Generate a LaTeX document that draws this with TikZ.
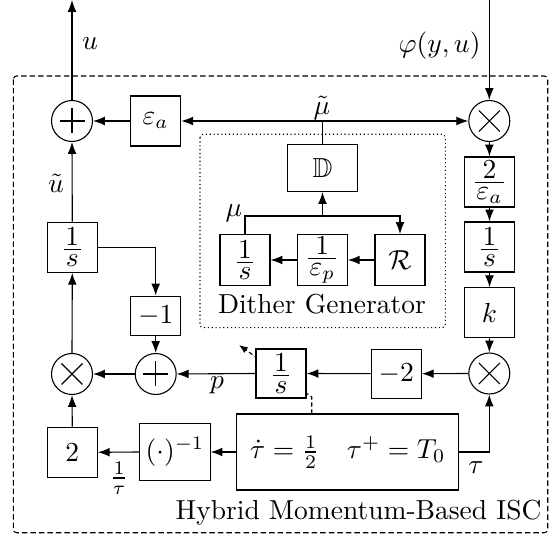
\documentclass[tikz,border=0pt]{standalone}
\usepackage{amsmath,amssymb}
\usetikzlibrary{arrows.meta,backgrounds}
\newcommand\plussym[1]{\draw (#1.center) +(-12.5,0) -- +(12.5,0) (#1.center) +(0,-12.5) -- +(0,12.5);}
\newcommand\timessym[1]{\draw (#1.center) +(-10.5,-10.5) -- +(10.5,10.5) (#1.center) +(-10.5,10.5) -- +(10.5,-10.5);}
\newcommand\bxfrac[2]{\vcenter{\offinterlineskip\halign{\hfil##\hfil\cr\kern0.5pt$#1$\kern0.5pt\cr\noalign{\kern1.3pt}\hrulefill\cr\noalign{\kern1.8pt}\kern0.5pt$#2$\kern0.5pt\cr}}}
\begin{document}
\begin{tikzpicture}[x=0.3636pt,y=-0.3636pt,line width=0.5pt,
  >={Latex[length=4.3pt,width=3.2pt]},
  blk/.style={draw,fill=white,inner sep=0pt,minimum width=18.2pt,minimum height=18.2pt},
  crc/.style={draw,fill=white,circle,inner sep=0pt,minimum size=14.9pt},
  lbl/.style={inner sep=0pt},
  outerbox/.style={dash pattern=on 2pt off 1.1pt,rounded corners=1.2pt},
  innerbox/.style={densely dotted,rounded corners=1.2pt},
  resetline/.style={dash pattern=on 1.5pt off 1pt,-{Latex[length=3.2pt,width=2.5pt]}}]
\useasboundingbox (0,0) rectangle (557,536);
\begin{pgfonlayer}{background}
\fill[white] (0,0) rectangle (557,536);
\end{pgfonlayer}
\draw[outerbox] (13.3,76) rectangle (547.7,532.7);
\draw[innerbox] (200,134.3) rectangle (445.3,327.7);
% nodes
\node[crc] (sumA) at (72,121) {};
\node[blk] (epsA) at (155.7,121) {$\varepsilon_a$};
\node[crc] (mulA) at (489.3,121) {};
\node[blk,minimum width=25.5pt,minimum height=17.1pt] (D) at (322.5,168) {$\mathbb{D}$};
\node[blk,minimum height=18.5pt] (intM) at (245,260) {$\bxfrac{1}{s}$};
\node[blk,minimum height=18.5pt] (invEp) at (322.3,260) {$\bxfrac{1}{\varepsilon_p}$};
\node[blk,minimum height=18.5pt] (R) at (400,260) {$\mathcal{R}$};
\node[blk] (intU) at (72.3,247.3) {$\bxfrac{1}{s}$};
\node[blk,minimum height=14.5pt] (m1) at (155.7,316) {$-1$};
\node[crc] (sumB) at (155.7,374) {};
\node[crc] (mulB) at (72,374) {};
\node[blk,minimum height=17.8pt] (intP) at (281,373.5) {$\bxfrac{1}{s}$};
\node[blk,minimum height=17.8pt] (m2) at (396.3,373.7) {$-2$};
\node[crc] (mulC) at (489.3,373.5) {};
\node[blk] (twoE) at (489.5,182) {$\bxfrac{2}{\varepsilon_a}$};
\node[blk] (intR) at (489.5,247) {$\bxfrac{1}{s}$};
\node[blk] (kk) at (489.5,312.8) {$k$};
\node[blk] (two) at (72.3,452.3) {$2$};
\node[blk,minimum width=25.5pt,minimum height=20.4pt] (inv) at (175,452) {$(\cdot)^{-1}$};
\node[blk,minimum width=80.7pt,minimum height=27.6pt] (hyb) at (347.7,452) {$\dot{\tau}=\frac{1}{2}\quad\tau^{+}=T_0$};
\plussym{sumA}
\plussym{sumB}
\timessym{mulA}
\timessym{mulB}
\timessym{mulC}
% coordinates
\coordinate (outTop) at (72,0);
\coordinate (inTop) at (489.3,0);
\coordinate (jM) at (322.5,216);
\coordinate (rsA) at (311.7,397);
\coordinate (rsB) at (239,345);
% reset (behind the integrator)
\begin{pgfonlayer}{background}
\draw[resetline] (rsA |- hyb.north) -- (rsA) -- (rsB);
\end{pgfonlayer}
% connectors
\draw[->] (sumA.north) -- (outTop);
\draw[->] (inTop) -- (mulA.north);
\draw[<->] (epsA.east) -- (mulA.west);
\draw[->] (epsA.west) -- (sumA.east);
\draw (D.north) -- (D.north |- mulA.west);
\draw[->] (intM.north) |- (jM) -| (R.north);
\draw[->] (jM) -- (D.south);
\draw[->] (R.west) -- (invEp.east);
\draw[->] (invEp.west) -- (intM.east);
\draw[->] (intU.north) -- (sumA.south);
\draw[->] (intU.east) -| (m1.north);
\draw[->] (m1.south) -- (sumB.north);
\draw[->] (sumB.west) -- (mulB.east);
\draw[->] (intP.west) -- (sumB.east);
\draw[->] (mulB.north) -- (intU.south);
\draw[->] (two.north) -- (mulB.south);
\draw[->] (inv.west) -- (two.east);
\draw[->] (hyb.west) -- (inv.east);
\draw[->] (hyb.east) -| (mulC.south);
\draw[->] (mulC.west) -- (m2.east);
\draw[->] (m2.west) -- (intP.east);
\draw[->] (mulA.south) -- (twoE.north);
\draw[->] (twoE.south) -- (intR.north);
\draw[->] (intR.south) -- (kk.north);
\draw[->] (kk.south) -- (mulC.north);
% labels
\node[lbl] (lu) at (90,44) {$u$};
\node[lbl,anchor=east] (lphi) at (481,46) {$\varphi(y,u)$};
\node[lbl] (lmut) at (322,108) {$\tilde{\mu}$};
\node[lbl] (lut) at (56,183) {$\tilde{u}$};
\node[lbl] (lmu) at (234,213) {$\mu$};
\node[lbl] (lp) at (217,385) {$p$};
\node[lbl] (ltauinv) at (119,478) {$\frac{1}{\tau}$};
\node[lbl] (ltau) at (476,468) {$\tau$};
\node[lbl] (ldg) at (322,304) {Dither Generator};
\node[lbl,anchor=east] (lhyb) at (542,513) {Hybrid Momentum-Based ISC};
\end{tikzpicture}
\end{document}
